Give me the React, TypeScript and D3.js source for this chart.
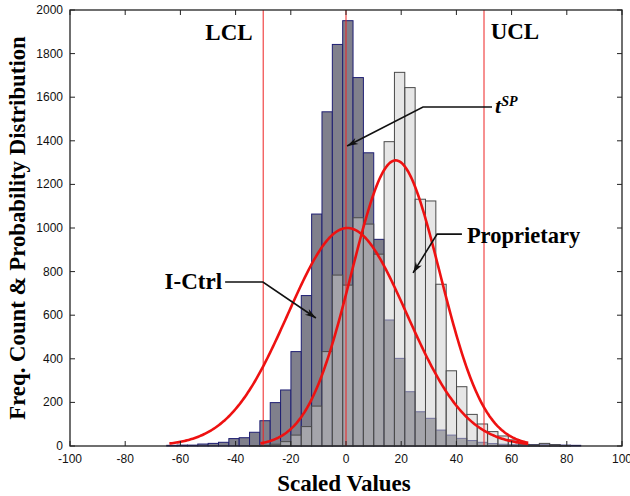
import React from "react";
import * as d3 from "d3";

// Histogram bins: uniform width, first bin starts at BIN_START
const BIN_START = -64.95;
const BIN_WIDTH = 3.75;

// I-Ctrl counts per bin (bins from -64.95 upward)
const ictrlCounts = [
  3, 4, 4, 9, 12, 17, 34, 38, 63, 116, 199, 257, 433, 690, 1064, 1533, 1842,
  1951, 1690, 1345, 948, 578, 402, 249, 157, 127, 73, 50, 35, 25, 17, 11, 8,
  6, 5, 6, 8, 6, 4, 3,
];

// Proprietary counts per bin (same bins)
const propCounts = [
  0, 0, 0, 0, 0, 0, 0, 0, 2, 3, 8, 20, 50, 89, 183, 433, 784, 738, 1047, 1018,
  880, 1396, 1714, 1644, 1132, 1124, 742, 345, 272, 145, 101, 66, 46, 28, 8,
  5, 12, 6, 2, 0,
];

// Normal fits: mean, sd, peak height, plotted range
const ictrlFit = { mean: 0.5, sd: 21.5, peak: 1000, from: -64, to: 66 };
const propFit = { mean: 18, sd: 16, peak: 1310, from: -31, to: 66 };

// Control limits and target
const limits = [-30, 0, 50];

const xTicks = [-100, -80, -60, -40, -20, 0, 20, 40, 60, 80, 100];
const yTicks = [0, 200, 400, 600, 800, 1000, 1200, 1400, 1600, 1800, 2000];

const W = 630;
const H = 496;
const left = 70;
const right = 622;
const top = 10;
const bottom = 446;

const serif = "'Liberation Serif', 'Times New Roman', serif";
const sans = "'Liberation Sans Narrow', 'Liberation Sans', Arial, sans-serif";

export default function App() {
  const x = d3.scaleLinear().domain([-100, 100]).range([left, right]);
  const y = d3.scaleLinear().domain([0, 2000]).range([bottom, top]);

  const fitPath = (f: typeof ictrlFit) => {
    const xs = d3.range(f.from, f.to + 0.001, 0.5);
    const line = d3
      .line<number>()
      .x((v) => x(v))
      .y((v) => y(f.peak * Math.exp(-((v - f.mean) ** 2) / (2 * f.sd * f.sd))));
    return line(xs) || "";
  };

  const bars = (counts: number[], fill: string, fillOpacity: number, stroke: string, key: string) =>
    counts.map((c, i) => {
      if (c <= 0) return null;
      const x0 = x(BIN_START + i * BIN_WIDTH);
      const x1 = x(BIN_START + (i + 1) * BIN_WIDTH);
      return (
        <rect
          key={key + i}
          x={x0}
          y={y(c)}
          width={x1 - x0}
          height={y(0) - y(c)}
          fill={fill}
          fillOpacity={fillOpacity}
          stroke={stroke}
          strokeWidth={1}
        />
      );
    });

  // Annotation arrows in data coordinates
  const arrows = [
    [[52.9, 1555], [27.9, 1555], [0.4, 1376]],
    [[42.0, 972], [33.0, 972], [24.3, 794]],
    [[-43.8, 752], [-30.1, 752], [-10.9, 587]],
  ];

  const arrowHead = (p: number[], q: number[]) => {
    const [x1, y1] = [x(p[0]), y(p[1])];
    const [x2, y2] = [x(q[0]), y(q[1])];
    const ang = Math.atan2(y2 - y1, x2 - x1);
    const L = 11;
    const Wd = 3.5;
    const pt = (dx: number, dy: number) =>
      `${x2 + dx * Math.cos(ang) - dy * Math.sin(ang)},${y2 + dx * Math.sin(ang) + dy * Math.cos(ang)}`;
    return `${pt(0, 0)} ${pt(-L, -Wd)} ${pt(-L * 0.7, 0)} ${pt(-L, Wd)}`;
  };

  return (
    <svg
      width={W}
      height={H}
      style={{ position: "absolute", left: 0, top: 0, background: "#fff" }}
    >
      <rect x={0} y={0} width={W} height={H} fill="#fff" />
      {bars(ictrlCounts, "#80808c", 1, "#1e1e72", "a")}
      {bars(propCounts, "#cccccc", 0.49, "#4a4a4a", "b")}

      {limits.map((v) => (
        <line key={v} x1={x(v)} x2={x(v)} y1={top} y2={bottom} stroke="#ee2222" strokeWidth={1} />
      ))}

      <path d={fitPath(ictrlFit)} fill="none" stroke="#ee1111" strokeWidth={2.6} />
      <path d={fitPath(propFit)} fill="none" stroke="#ee1111" strokeWidth={2.6} />

      {arrows.map((a, i) => (
        <g key={i}>
          <polyline
            points={a.map((p) => `${x(p[0])},${y(p[1])}`).join(" ")}
            fill="none"
            stroke="#111"
            strokeWidth={1.6}
          />
          <polygon points={arrowHead(a[1], a[2])} fill="#111" />
        </g>
      ))}

      {/* axes box */}
      <rect x={left} y={top} width={right - left} height={bottom - top} fill="none" stroke="#222" strokeWidth={1.3} />
      {xTicks.map((t) => (
        <g key={"x" + t}>
          <line x1={x(t)} x2={x(t)} y1={bottom} y2={bottom - 5} stroke="#222" />
          <line x1={x(t)} x2={x(t)} y1={top} y2={top + 5} stroke="#222" />
          <text x={x(t)} y={463} textAnchor="middle" fontFamily={sans} fontSize={12} fill="#111">
            {t}
          </text>
        </g>
      ))}
      {yTicks.map((t) => (
        <g key={"y" + t}>
          <line x1={left} x2={left + 5} y1={y(t)} y2={y(t)} stroke="#222" />
          <line x1={right} x2={right - 5} y1={y(t)} y2={y(t)} stroke="#222" />
          <text x={63} y={y(t) + 4} textAnchor="end" fontFamily={sans} fontSize={12} fill="#111">
            {t}
          </text>
        </g>
      ))}

      {/* labels */}
      <text x={x(-42.4)} y={y(1862)} textAnchor="middle" fontFamily={serif} fontWeight="bold" fontSize={23}>
        LCL
      </text>
      <text x={x(61.2)} y={y(1867)} textAnchor="middle" fontFamily={serif} fontWeight="bold" fontSize={23}>
        UCL
      </text>
      <text x={x(54)} y={y(1528)} fontFamily={serif} fontWeight="bold" fontStyle="italic" fontSize={22}>
        t
        <tspan dy={-7} fontSize={14}>
          SP
        </tspan>
      </text>
      <text x={x(43.8)} y={y(931)} fontFamily={serif} fontWeight="bold" fontSize={22.5}>
        Proprietary
      </text>
      <text x={x(-44.9)} y={y(720)} textAnchor="end" fontFamily={serif} fontWeight="bold" fontSize={23}>
        I-Ctrl
      </text>

      <text x={344} y={491} textAnchor="middle" fontFamily={serif} fontWeight="bold" fontSize={23}>
        Scaled Values
      </text>
      <text
        transform={`translate(25,228) rotate(-90)`}
        textAnchor="middle"
        fontFamily={serif}
        fontWeight="bold"
        fontSize={22.8}
      >
        Freq. Count &amp; Probability Distribution
      </text>
    </svg>
  );
}
